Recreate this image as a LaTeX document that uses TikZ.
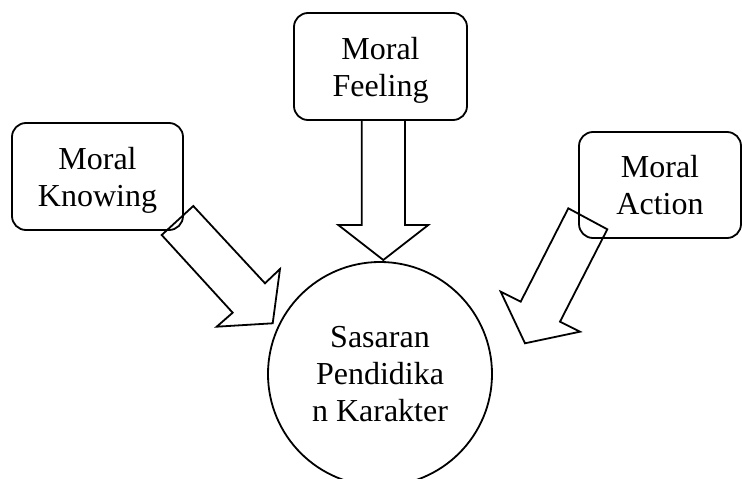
\documentclass[tikz,border=0pt]{standalone}
\usepackage{fontspec}
\setmainfont{Liberation Serif}
\tikzset{
  pilar/.style={draw, line width=1.8pt, rounded corners=14pt, align=center,
    font=\fontsize{32}{37}\selectfont, inner sep=0pt},
  sasaran/.style={draw, circle, line width=1.8pt, minimum size=224pt, align=center,
    font=\fontsize{32}{37}\selectfont, inner sep=0pt},
  blok/.style={draw, fill=white, line width=1.8pt, line join=miter}
}
\begin{document}
\begin{tikzpicture}[x=1pt,y=-1pt]
      \useasboundingbox (0,0) rectangle (742,479);
      \draw
        (97.5,176.5) node[pilar, minimum width=171pt, minimum height=107pt, text depth=0pt] (knowing){Moral\\Knowing}
        (380.5,66.5) node[pilar, minimum width=173pt, minimum height=107pt, text depth=0pt] (feeling){Moral\\Feeling}
        (660,185) node[pilar, minimum width=162pt, minimum height=106pt, text depth=0pt] (action){Moral\\Action}
        (380,374) node[sasaran] (tujuan){Sasaran\\Pendidika\\n Karakter};
      \begin{scope}[blok]
        \draw (161.7,235) -- (193.3,206) -- (265,283.3) -- (280,269) -- (272.7,323.3)
          -- (216.7,326.7) -- (232.7,312.7) -- cycle;
        \draw (361.7,120) -- (405,120) -- (405,225) -- (428.3,225) -- (383.3,260)
          -- (338.3,225) -- (361.7,225) -- cycle;
        \draw (568.3,208.3) -- (607.3,229.3) -- (560,321.7) -- (580,331.7) -- (525,343.3)
          -- (500.7,291.7) -- (520.7,301.7) -- cycle;
      \end{scope}
    \end{tikzpicture}
\end{document}
